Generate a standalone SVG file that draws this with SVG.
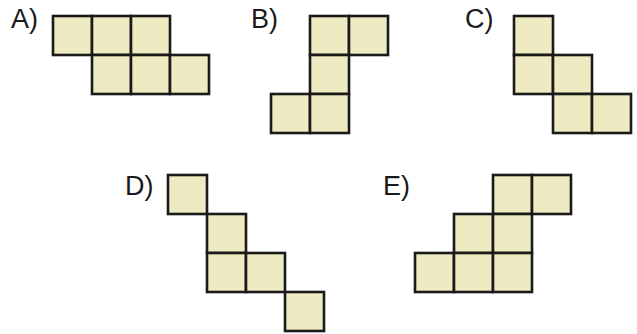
<svg xmlns="http://www.w3.org/2000/svg" width="637" height="334" viewBox="0 0 637 334">
<style>
.c{fill:#EEEBC2;stroke:#1a1a1a;stroke-width:2.6}
.l{font-family:"Liberation Sans",Arial,sans-serif;font-size:27px;fill:#1a1a1a}
</style>
<rect width="637" height="334" fill="#ffffff"/>
<g id="figA">
<text class="l" x="11" y="28">A)</text>
<rect class="c" x="53" y="16" width="39" height="39"/>
<rect class="c" x="92" y="16" width="39" height="39"/>
<rect class="c" x="131" y="16" width="39" height="39"/>
<rect class="c" x="92" y="55" width="39" height="39"/>
<rect class="c" x="131" y="55" width="39" height="39"/>
<rect class="c" x="170" y="55" width="39" height="39"/>
</g>
<g id="figB">
<text class="l" x="251" y="28">B)</text>
<rect class="c" x="310" y="16" width="39" height="39"/>
<rect class="c" x="349" y="16" width="39" height="39"/>
<rect class="c" x="310" y="55" width="39" height="39"/>
<rect class="c" x="271" y="94" width="39" height="39"/>
<rect class="c" x="310" y="94" width="39" height="39"/>
</g>
<g id="figC">
<text class="l" x="465" y="28">C)</text>
<rect class="c" x="514" y="16" width="39" height="39"/>
<rect class="c" x="514" y="55" width="39" height="39"/>
<rect class="c" x="553" y="55" width="39" height="39"/>
<rect class="c" x="553" y="94" width="39" height="39"/>
<rect class="c" x="592" y="94" width="39" height="39"/>
</g>
<g id="figD">
<text class="l" x="125" y="195">D)</text>
<rect class="c" x="168" y="175" width="39" height="39"/>
<rect class="c" x="207" y="214" width="39" height="39"/>
<rect class="c" x="207" y="253" width="39" height="39"/>
<rect class="c" x="246" y="253" width="39" height="39"/>
<rect class="c" x="285" y="292" width="39" height="39"/>
</g>
<g id="figE">
<text class="l" x="383" y="195">E)</text>
<rect class="c" x="493" y="175" width="39" height="39"/>
<rect class="c" x="532" y="175" width="39" height="39"/>
<rect class="c" x="454" y="214" width="39" height="39"/>
<rect class="c" x="493" y="214" width="39" height="39"/>
<rect class="c" x="415" y="253" width="39" height="39"/>
<rect class="c" x="454" y="253" width="39" height="39"/>
<rect class="c" x="493" y="253" width="39" height="39"/>
</g>
<g id="connectors"/>
</svg>
